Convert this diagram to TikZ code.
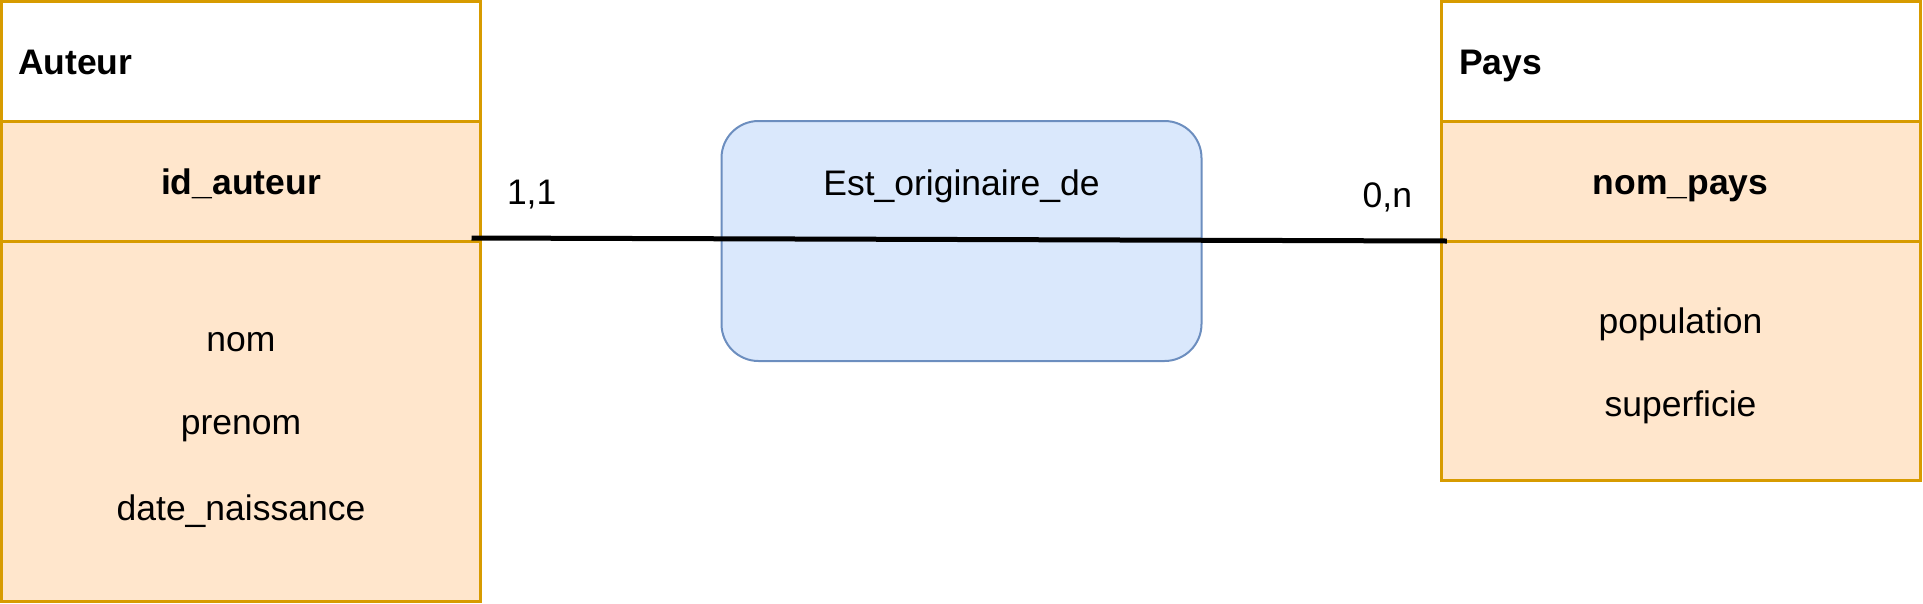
\documentclass[tikz,border=0pt]{standalone}
\usepackage{fontspec}
\setmainfont{Liberation Sans}
\usepackage{tikz}
\usepackage{xcolor}
\usetikzlibrary{calc}
\usetikzlibrary{positioning}
\definecolor{entline}{HTML}{D79B00}
\definecolor{entfill}{HTML}{FFE6CC}
\definecolor{relline}{HTML}{6C8EBF}
\definecolor{relfill}{HTML}{DAE8FC}

\begin{document}
\begin{tikzpicture}[x=1pt,y=-1pt,
every node/.style={font=\fontsize{35.5}{42}\selectfont, inner sep=0pt, outer sep=0pt},
	champ/.style={draw=entline, line width=3pt, rectangle, anchor=north west, minimum width=479pt},
	entete/.style={champ, fill=white},
	corps/.style={champ, fill=entfill},
	relation/.style={draw=relline, fill=relfill, line width=2pt, rounded corners=37pt, minimum width=480pt, minimum height=240pt},
	texte/.style={anchor=base},
	gras/.style={font=\fontsize{35.5}{42}\selectfont\bfseries},
	lien/.style={line width=5pt, black}]

\useasboundingbox (0,0) rectangle (1923,603);

% Define the heights of the rows.
\def\hentete{119.5}
\def\hcle{120}

% Auteur
\node[entete, minimum height=\hentete] (auteur) at (1.5,1.5) {};
\node[corps, minimum height=\hcle] (idauteur) at (auteur.south west) {};
\node[corps, minimum height=360] (attauteur) at (idauteur.south west) {};

% Pays
\node[entete, minimum height=\hentete] (pays) at (1441.3,1.5) {};
\node[corps, minimum height=\hcle] (nompays) at (pays.south west) {};
\node[corps, minimum height=239] (attpays) at (nompays.south west) {};

% Relation
\node[relation] (estorig) at (961.5,241) {};

\node[anchor=base west, gras] (tauteur) at (18,74) {Auteur};
\node[texte, gras] (tidauteur) at (241,194) {id\_auteur};
\node[texte] (tnom) at (241,351) {nom};
\node[texte] (tprenom) at (241,434) {prenom};
\node[texte] (tdate) at (241,520) {date\_naissance};

\node[anchor=base west, gras] (tpays) at (1459,74) {Pays};
\node[texte, gras] (tnompays) at (1680.5,194) {nom\_pays};
\node[texte] (tpopulation) at (1680.5,333) {population};
\node[texte] (tsuperficie) at (1680.5,416) {superficie};

\node[texte] (testorig) at (961.5,195) {Est\_originaire\_de};

\draw[lien] ($(idauteur.south east)+(-9,-3)$) -- ($(nompays.south west)+(5.5,0)$);

\node[anchor=base west] (card1) at (507,204) {1,1};
\node[anchor=base east] (card2) at (1412,207) {0,n};

\end{tikzpicture}
\end{document}
